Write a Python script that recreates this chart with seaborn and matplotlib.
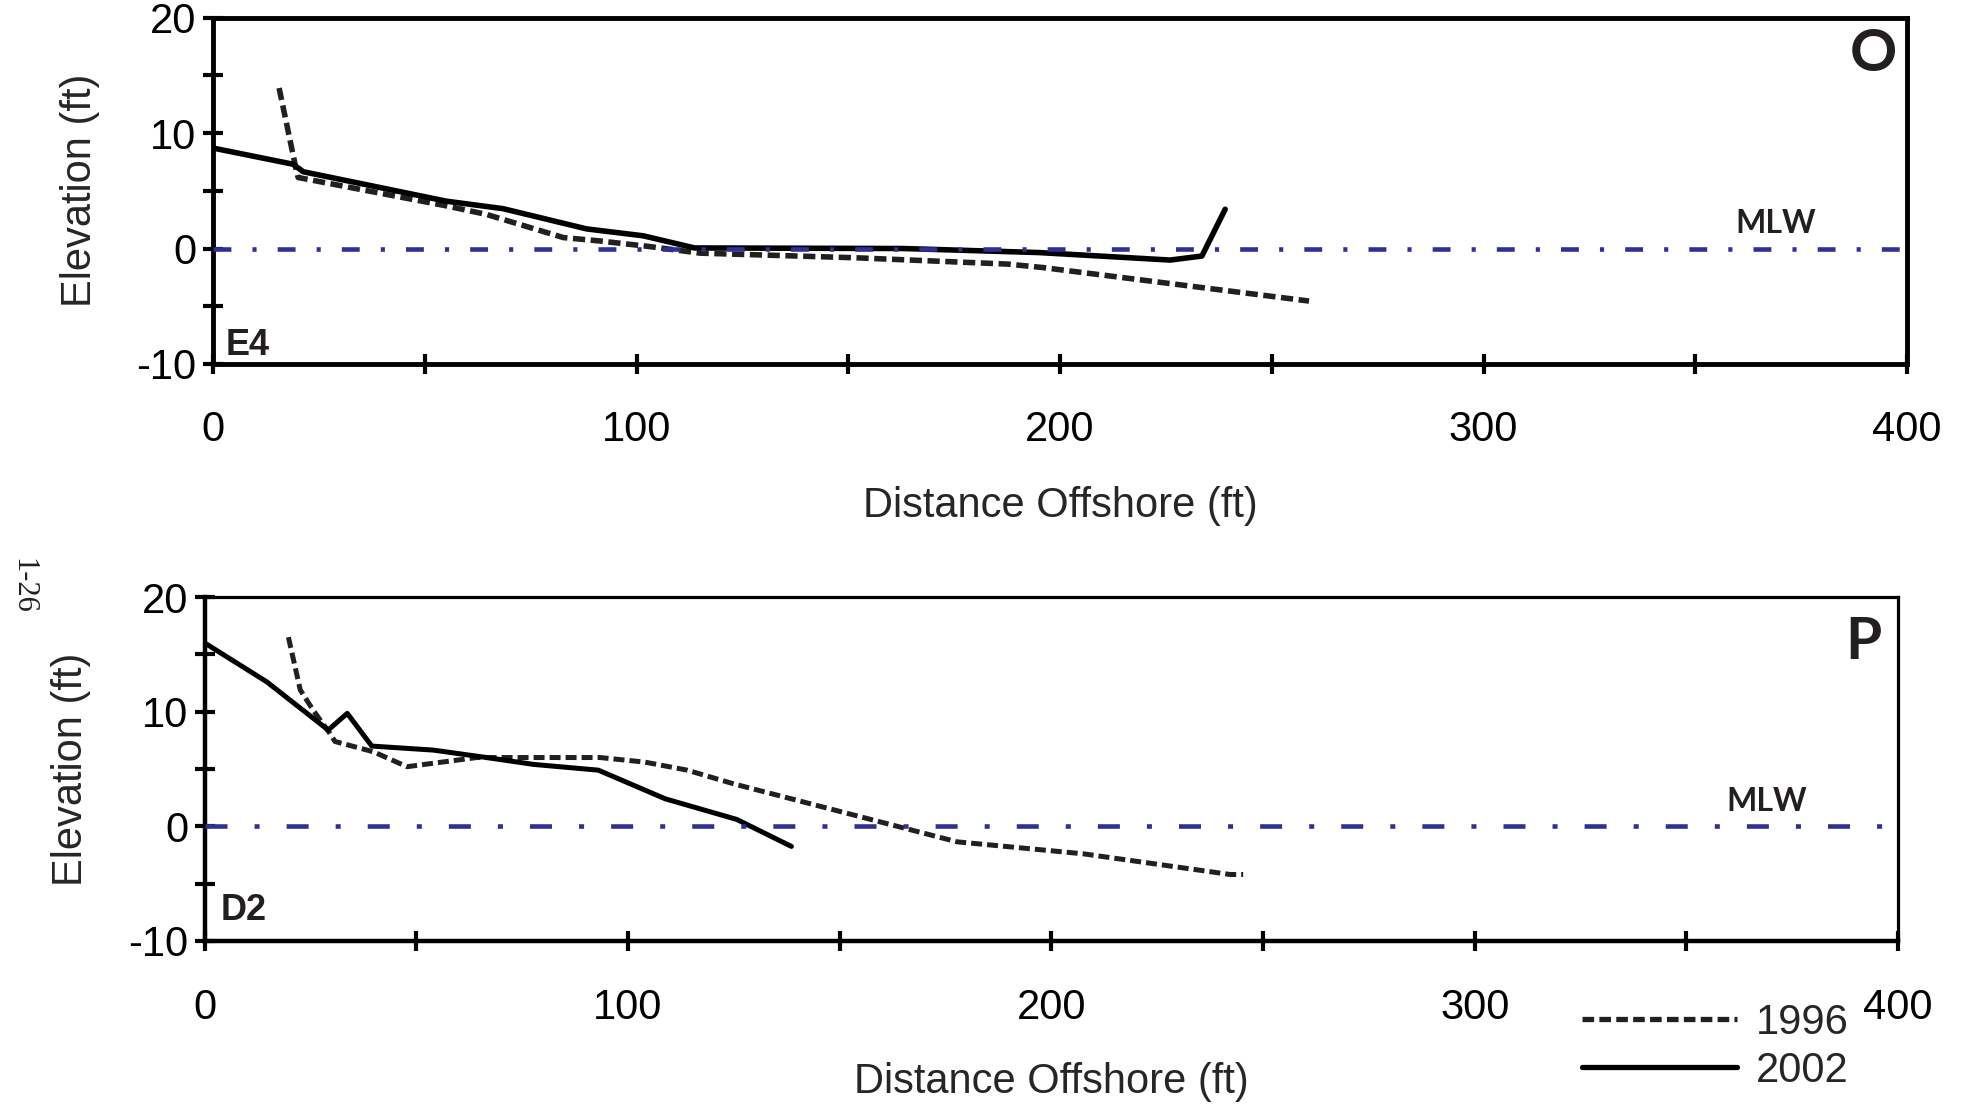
import pandas as pd
import seaborn as sns
from matplotlib import pyplot as plt

# profile E4 (panel O)
dist_1996_e4 = [15.6, 19.6, 20.1, 55.0, 64.6, 82.7, 91.4, 102.4, 115.0, 151.6, 187.7, 196.0, 258.8]
elev_1996_e4 = [13.9, 6.9, 6.15, 3.7, 2.95, 0.95, 0.65, 0.2, -0.4, -0.8, -1.35, -1.65, -4.55]
dist_2002_e4 = [0.0, 18.9, 21.3, 55.1, 68.5, 88.2, 101.6, 113.7, 163.0, 195.0, 226.0, 233.5, 239.0]
elev_2002_e4 = [8.7, 7.3, 6.65, 4.1, 3.45, 1.7, 1.1, 0.05, 0.0, -0.35, -1.0, -0.65, 3.4]

# profile D2 (panel P)
dist_1996_d2 = [19.8, 22.6, 25.7, 29.6, 30.8, 39.9, 47.8, 64.3, 93.4, 104.0, 114.0, 125.0, 177.7, 207.6, 242.2, 245.3]
elev_1996_d2 = [16.5, 11.9, 10.1, 8.1, 7.4, 6.5, 5.2, 6.0, 6.0, 5.6, 4.9, 3.7, -1.35, -2.4, -4.2, -4.2]
dist_2002_d2 = [0.0, 14.7, 29.2, 33.7, 39.5, 54.0, 66.6, 77.7, 93.0, 108.8, 125.7, 138.6]
elev_2002_d2 = [16.0, 12.6, 8.4, 9.85, 7.0, 6.65, 6.0, 5.4, 4.9, 2.4, 0.6, -1.75]

years = ["1996", "2002"]
x_major = [0, 100, 200, 300, 400]
x_minor = [50, 150, 250, 350]
y_major = [-10, 0, 10, 20]
y_minor = [-5, 5, 15]

INK = "#231f20"
MLW_COLOR = "#2e3192"

sns.set_style("white")
plt.rcParams["font.family"] = ["Liberation Sans", "DejaVu Sans"]
plt.rcParams["font.size"] = 30
plt.rcParams["axes.unicode_minus"] = False


def profile_df(d96, e96, d02, e02):
    a = pd.DataFrame({"distance": d96, "elevation": e96, "year": "1996"})
    b = pd.DataFrame({"distance": d02, "elevation": e02, "year": "2002"})
    return pd.concat([a, b], ignore_index=True)


def draw_panel(ax, df, letter, site, site_xy, letter_xy, mlw_dash, spine_w, xpad, lw, legend):
    sns.lineplot(
        data=df,
        x="distance",
        y="elevation",
        hue="year",
        style="year",
        hue_order=years,
        style_order=years,
        palette={"1996": INK, "2002": "black"},
        dashes={"1996": (2.2, 1.0), "2002": ""},
        sort=False,
        estimator=None,
        linewidth=lw,
        legend=legend,
        ax=ax,
    )
    ax.axhline(0, color=MLW_COLOR, lw=3.3, linestyle=(0, mlw_dash), dash_capstyle="butt", zorder=3)

    ax.set_xlim(0, 400)
    ax.set_ylim(-10, 20)
    ax.set_xticks(x_major)
    ax.set_xticks(x_minor, minor=True)
    ax.set_yticks(y_major)
    ax.set_yticks(y_minor, minor=True)
    ax.tick_params(which="both", direction="inout", length=13.7, width=3, colors="black",
                   top=False, right=False, left=True, bottom=True)
    ax.tick_params(axis="x", which="major", pad=xpad, labelsize=30)
    ax.tick_params(axis="y", which="major", pad=5, labelsize=30)
    for side, w in spine_w.items():
        ax.spines[side].set_linewidth(w)
        ax.spines[side].set_color("black")

    ax.set_xlabel("Distance Offshore (ft)", fontsize=30)
    ax.set_ylabel("Elevation (ft)", fontsize=30)
    ax.xaxis.set_label_coords(0.5, -0.352)
    ax.yaxis.set_label_coords(-0.067, 0.5)

    ax.text(369, 2.2, "MLW", ha="center", va="center", fontsize=23, color=INK,
            family=["Lato", "DejaVu Sans"], fontweight="bold")
    ax.text(letter_xy[0], letter_xy[1], letter, ha="center", va="center", fontsize=42, color=INK,
            family=["Lato", "DejaVu Sans"], fontweight="bold")
    ax.text(site_xy[0], site_xy[1], site, ha="center", va="center", fontsize=26, color=INK,
            fontweight="bold")


fig = plt.figure(figsize=(19.67, 11.06), dpi=100)
ax_top = fig.add_axes([0.1083, 0.6709, 0.8612, 0.3132])
ax_bot = fig.add_axes([0.1040, 0.1492, 0.8610, 0.3110])

draw_panel(ax_top, profile_df(dist_1996_e4, elev_1996_e4, dist_2002_e4, elev_2002_e4),
           "O", "E4", (8.3, -8.4), (392, 16.8), (3.9, 4.6, 0.9, 4.6),
           {"left": 3.5, "bottom": 3.5, "top": 3.5, "right": 3.5}, 26, 4.0, False)
draw_panel(ax_bot, profile_df(dist_1996_d2, elev_1996_d2, dist_2002_d2, elev_2002_d2),
           "P", "D2", (9.3, -7.3), (391.7, 16.0), (4.8, 5.9, 1.1, 5.9),
           {"left": 3.2, "bottom": 3.2, "top": 2.3, "right": 2.3}, 27, 3.6, True)

# move the legend of the lower panel to the figure corner
leg = ax_bot.get_legend()
handles = leg.legend_handles
labels = [t.get_text() for t in leg.get_texts()]
leg.remove()
new_leg = fig.legend(handles, labels, loc="center", bbox_to_anchor=(0.872, 0.0535), frameon=False,
                     fontsize=30, handlelength=3.72, handletextpad=0.46, labelspacing=0.18, borderpad=0)
for h in new_leg.legend_handles:
    h.set_linewidth(3.8)

fig.text(23 / 1967, 1 - 586 / 1106, "1-26", rotation=-90, ha="center", va="center", fontsize=22,
         family=["Liberation Serif", "DejaVu Serif"], color=INK)

plt.savefig("out.png", dpi=100)
plt.close()
